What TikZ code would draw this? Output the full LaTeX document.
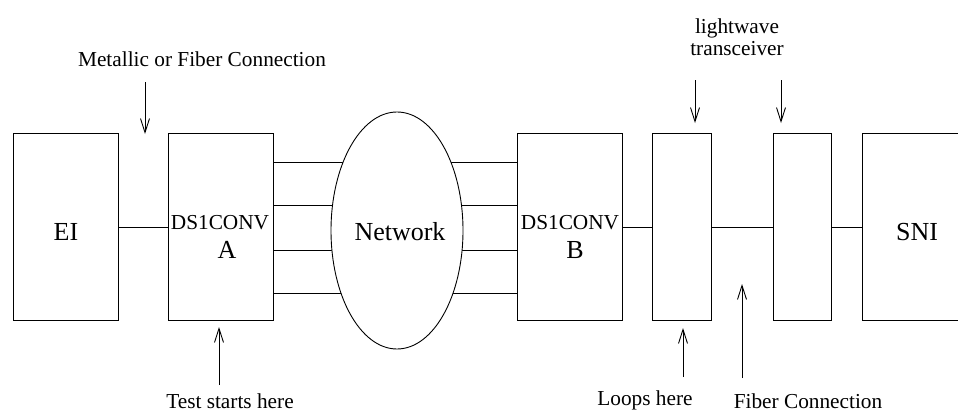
\documentclass[tikz,border=0pt]{standalone}
\usepackage{fontspec}
\setmainfont{Liberation Serif}
\usetikzlibrary{arrows.meta,shapes.geometric}
\begin{document}
\begin{tikzpicture}[x=1pt,y=-1pt,
  blk/.style={draw,line width=0.9pt,minimum height=187pt,inner sep=0pt},
  wire/.style={line width=0.9pt},
  ptr/.style={line width=0.9pt,-{Straight Barb[length=14pt,width=9pt,line width=0.9pt]}},
  big/.style={font=\fontsize{26}{28}\selectfont,inner sep=0pt},
  small/.style={font=\fontsize{21.3}{24}\selectfont,inner sep=0pt,align=center}]
\useasboundingbox (0,0) rectangle (958,412);
\clip (0,0) rectangle (958,412);
\node[blk,minimum width=105pt] (EI) at (65.5,226.5) {};
\node[blk,minimum width=105pt] (A) at (220.5,226.5) {};
\node[blk,minimum width=105pt] (B) at (569.5,226.5) {};
\node[blk,minimum width=59pt] (L) at (681.5,226.5) {};
\node[blk,minimum width=58pt] (T) at (802,226.5) {};
\node[blk,minimum width=120pt] (S) at (922,226.5) {};
% wires
\draw[wire] (EI.east |- 0,227) -- (A.west |- 0,227);
\draw[wire] (B.east |- 0,227) -- (L.west |- 0,227);
\draw[wire] (L.east |- 0,227) -- (T.west |- 0,227);
\draw[wire] (T.east |- 0,227) -- (S.west |- 0,227);
\foreach \yy in {162,205,250,293}
  \draw[wire] (A.east |- 0,\yy) -- (B.west |- 0,\yy);
\node[draw,fill=white,line width=0.9pt,ellipse,minimum width=132pt,minimum height=237pt,inner sep=0pt] (net) at (397,230.5) {};
% labels
\node[big] (tEI) at (66,232) {EI};
\node[small] (tA1) at (220,223) {DS1CONV};
\node[big] (tA2) at (227,250) {A};
\node[big] (tnet) at (400,232) {Network};
\node[small] (tB1) at (570,223) {DS1CONV};
\node[big] (tB2) at (575,250) {B};
\node[big] (tS) at (917,232) {SNI};
\node[small] (m) at (202,59) {Metallic or Fiber Connection};
\node[small] (lw) at (737,37) {lightwave\\[-2pt]transceiver};
\node[small] (ts) at (230,401) {Test starts here};
\node[small] (lh) at (645,400) {Loops here};
\node[small] (fc) at (808,401) {Fiber Connection};
% pointers
\coordinate (m1) at (145,82); \coordinate (m2) at (145,134);
\coordinate (t1) at (219,385); \coordinate (t2) at (219,327);
\coordinate (w1) at (695,80); \coordinate (w2) at (695,123);
\coordinate (w3) at (781,80); \coordinate (w4) at (781,123);
\coordinate (l1) at (683,377); \coordinate (l2) at (683,328);
\coordinate (f1) at (742,378); \coordinate (f2) at (742,284);
\draw[ptr] (m1) -- (m2);
\draw[ptr] (t1) -- (t2);
\draw[ptr] (w1) -- (w2);
\draw[ptr] (w3) -- (w4);
\draw[ptr] (l1) -- (l2);
\draw[ptr] (f1) -- (f2);
\end{tikzpicture}
\end{document}
